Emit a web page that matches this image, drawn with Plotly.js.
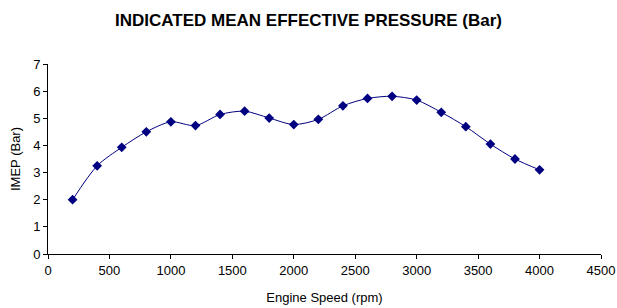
<!DOCTYPE html>
<html><head><meta charset="utf-8">
<script src="https://cdn.plot.ly/plotly-3.0.1.min.js"></script>
<style>html,body{margin:0;padding:0;background:#fff}#chart{width:617px;height:308px}</style>
</head><body><div id="chart"></div>
<script>
const speedRpm = [200,400,600,800,1000,1200,1400,1600,1800,2000,2200,2400,2600,2800,3000,3200,3400,3600,3800,4000];
const imepBar = [2.0,3.25,3.93,4.50,4.87,4.73,5.14,5.26,5.01,4.77,4.96,5.46,5.73,5.81,5.67,5.22,4.69,4.05,3.50,3.10];
const xTicks = [0,500,1000,1500,2000,2500,3000,3500,4000,4500];
const yTicks = [0,1,2,3,4,5,6,7];
const chartTitle = 'INDICATED MEAN EFFECTIVE PRESSURE (Bar)';
const xTitle = 'Engine Speed (rpm)';
const yTitle = 'IMEP (Bar)';

const font = 'Liberation Sans, Arial, sans-serif';
Plotly.newPlot('chart', [{
  x: speedRpm, y: imepBar, type: 'scatter', mode: 'lines+markers',
  line: {color: '#000080', width: 1, shape: 'spline', smoothing: 0.8},
  marker: {symbol: 'diamond', size: 7.5, color: '#000080'}
}], {
  width: 617, height: 308,
  margin: {l: 48, r: 16, t: 64, b: 54},
  paper_bgcolor: '#fff', plot_bgcolor: '#fff',
  showlegend: false,
  font: {family: font, size: 13, color: '#000'},
  title: {text: '<b>' + chartTitle + '</b>', font: {family: font, size: 17, color: '#000'}, x: 0.5, xanchor: 'center', y: 0.936, yanchor: 'middle'},
  xaxis: {
    range: [0, 4500], tickvals: xTicks, ticktext: xTicks.map(String),
    showgrid: false, zeroline: false, showline: true, linecolor: '#000', linewidth: 1,
    ticks: 'outside', ticklen: 4, tickcolor: '#000', tickfont: {size: 13},
    title: {text: xTitle, font: {size: 13}, standoff: 16}
  },
  yaxis: {
    range: [0, 7], tickvals: yTicks, ticktext: yTicks.map(String),
    showgrid: false, zeroline: false, showline: true, linecolor: '#000', linewidth: 1,
    ticks: 'outside', ticklen: 4, tickcolor: '#000', tickfont: {size: 13},
    title: {text: yTitle, font: {size: 13}, standoff: 9}
  }
}, {staticPlot: true, displayModeBar: false});
</script></body></html>
